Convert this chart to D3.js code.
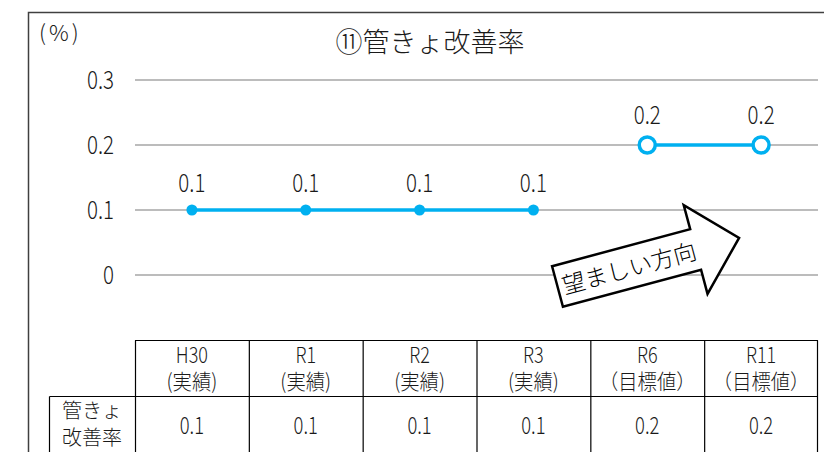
<!DOCTYPE html>
<html><head><meta charset="utf-8">
<script src="https://cdn.jsdelivr.net/npm/d3@7/dist/d3.min.js"></script>
<style>body{margin:0;background:#fff}svg{display:block}text{font-family:"Noto Sans CJK JP","Noto Sans",sans-serif;font-weight:300}</style>
</head><body><svg id="c" width="824" height="452"></svg>
<script>
const categories = ["H30","R1","R2","R3","R6","R11"];
const subLabels = ["(実績)","(実績)","(実績)","(実績)","（目標値）","（目標値）"];
const actual = [0.1,0.1,0.1,0.1,null,null];
const target = [null,null,null,null,0.2,0.2];
const tableValues = ["0.1","0.1","0.1","0.1","0.2","0.2"];
const yTicks = [0,0.1,0.2,0.3];
const title = "⑪管きょ改善率";
const unit = "(%)";
const rowLabel = ["管きょ","改善率"];
const arrowText = "望ましい方向";

(function(){
const svg = d3.select("#c");
const blue = "#00B0F0";
const ink = "#1a1a1a";
const x = d3.scaleBand().domain(categories).range([135,818]);
const y = d3.scaleLinear().domain([0,0.3]).range([275,80]);
const cx = d => x(d) + x.bandwidth()/2;
function cond(sel, sx){
  sel.each(function(){
    const t = d3.select(this), xx = +t.attr("x");
    t.attr("transform",`matrix(${sx},0,0,1,${xx*(1-sx)},0)`);
  });
}

svg.append("rect").attr("x",28.5).attr("y",12.5).attr("width",830).attr("height",460)
  .attr("fill","none").attr("stroke","#404040").attr("stroke-width",1.5);

svg.append("g").selectAll("line").data(yTicks).join("line")
  .attr("x1",135).attr("x2",818).attr("y1",d=>y(d)).attr("y2",d=>y(d))
  .attr("stroke","#a6a6a6").attr("stroke-width",1.5);
svg.append("g").selectAll("text").data(yTicks).join("text")
  .attr("x",114).attr("y",d=>y(d)).attr("dy","0.36em").attr("text-anchor","end")
  .attr("font-size",25).attr("fill",ink).text(d=>d===0?"0":d.toFixed(1))
  .call(cond,0.82);

svg.append("text").attr("x",430).attr("y",52).attr("text-anchor","middle")
  .attr("font-size",27).attr("fill",ink).text(title);
svg.append("text").attr("x",39).attr("y",41).attr("font-size",22).attr("letter-spacing",3)
  .attr("fill",ink).text(unit);

const ag = svg.append("g").attr("transform","translate(557.5,286.5) rotate(-15)");
ag.append("path").attr("d","M0,-21L143,-21L143,-46L188,0L143,46L143,21L0,21Z")
  .attr("fill","#fff").attr("stroke","#000").attr("stroke-width",2.5).attr("stroke-linejoin","miter");
ag.append("text").attr("x",74).attr("y",1).attr("dy","0.36em").attr("text-anchor","middle")
  .attr("font-size",23).attr("fill","#000").text(arrowText);

const pts = (arr,k) => categories.map((c,i)=>({c,v:arr[i],k})).filter(d=>d.v!=null);
const line = d3.line().x(d=>cx(d.c)).y(d=>y(d.v));
const a = pts(actual,"a"), t = pts(target,"t");
svg.append("path").attr("d",line(a)).attr("fill","none").attr("stroke",blue).attr("stroke-width",3.5);
svg.append("path").attr("d",line(t)).attr("fill","none").attr("stroke",blue).attr("stroke-width",3.5);
svg.append("g").selectAll("circle").data(a).join("circle")
  .attr("cx",d=>cx(d.c)).attr("cy",d=>y(d.v)).attr("r",5.5).attr("fill",blue);
svg.append("g").selectAll("circle").data(t).join("circle")
  .attr("cx",d=>cx(d.c)).attr("cy",d=>y(d.v)).attr("r",8).attr("fill","#fff").attr("stroke",blue).attr("stroke-width",3.5);
svg.append("g").selectAll("text").data(a.concat(t)).join("text")
  .attr("x",d=>cx(d.c)).attr("y",d=>y(d.v)-(d.k==="a"?27:30)).attr("dy","0.36em").attr("text-anchor","middle")
  .attr("font-size",25).attr("fill",ink).text(d=>d.v.toFixed(1))
  .call(cond,0.82);

const tg = svg.append("g");
const tTop = 340.5, tMid = 396.5, tBot = 470;
tg.append("line").attr("x1",135).attr("x2",818).attr("y1",tTop).attr("y2",tTop);
tg.append("line").attr("x1",49.5).attr("x2",818).attr("y1",tMid).attr("y2",tMid);
tg.append("line").attr("x1",49.5).attr("x2",49.5).attr("y1",tMid).attr("y2",tBot);
tg.selectAll("line.v").data(categories).join("line").attr("class","v")
  .attr("x1",d=>x(d)+0.5).attr("x2",d=>x(d)+0.5).attr("y1",tTop).attr("y2",tBot);
tg.append("line").attr("x1",817.5).attr("x2",817.5).attr("y1",tTop).attr("y2",tBot);
tg.selectAll("line").attr("stroke","#000").attr("stroke-width",1.2);
const ts = svg.append("g").attr("fill",ink).attr("text-anchor","middle");
ts.selectAll("text.c").data(categories).join("text").attr("class","c")
  .attr("x",d=>cx(d)).attr("y",355).attr("dy","0.36em").attr("font-size",22).text(d=>d)
  .call(cond,0.82);
ts.selectAll("text.s").data(subLabels).join("text").attr("class","s")
  .attr("x",(d,i)=>cx(categories[i])).attr("y",381).attr("dy","0.36em").attr("font-size",21).text(d=>d)
  .call(cond,0.92);
ts.selectAll("text.v").data(tableValues).join("text").attr("class","v")
  .attr("x",(d,i)=>cx(categories[i])).attr("y",426).attr("dy","0.36em").attr("font-size",23).text(d=>d)
  .call(cond,0.8);
ts.selectAll("text.l").data(rowLabel).join("text").attr("class","l")
  .attr("x",92).attr("y",(d,i)=>411+i*27).attr("dy","0.36em").attr("font-size",20).text(d=>d);
})();
</script></body></html>
